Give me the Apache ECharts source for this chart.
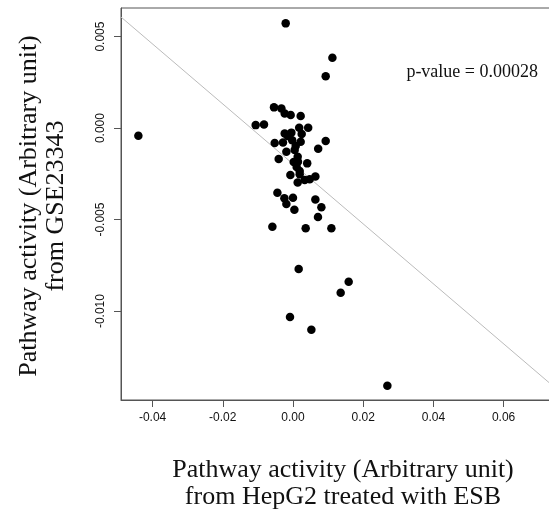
<!DOCTYPE html>
<html><head><meta charset="utf-8">
<script src="https://cdn.jsdelivr.net/npm/echarts@6/dist/echarts.min.js"></script>
<style>html,body{margin:0;padding:0;background:#fff}#c{width:549px;height:526px}</style>
</head><body><div id="c"></div>
<script>
// x values: pathway activity from HepG2 treated with ESB
const xValues = [-0.04405,-0.00208,0.01123,0.00932,-0.00541,-0.00330,-0.00236,-0.00066,0.00219,-0.01063,
 -0.00826,0.00177,0.00433,-0.00236,-0.00046,-0.00521,-0.00285,-0.00023,0.00219,0.00932,
 0.00718,-0.00188,0.00048,0.00134,-0.00407,0.00142,0.00405,0.00191,-0.00074,0.00191,
 0.00134,0.00333,0.00476,0.00638,-0.00444,-0.00245,0.00000,-0.00188,0.00040,0.00638,
 0.00809,0.00712,-0.00587,0.00362,0.01094,0.00162,0.01587,0.01359,-0.00085,0.00524,
 0.02689,-0.00151,0.00077,0.00020,0.00105,0.00248];
// y values: pathway activity from GSE23343
const yValues = [-0.00042,0.00572,0.00384,0.00283,0.00113,0.00107,0.00079,0.00071,0.00066,0.00016,
 0.00020,0.00002,0.00002,-0.00030,-0.00025,-0.00082,-0.00079,-0.00066,-0.00075,-0.00071,
 -0.00113,-0.00130,-0.00120,-0.00157,-0.00169,-0.00184,-0.00193,-0.00235,-0.00257,-0.00253,
 -0.00297,-0.00284,-0.00280,-0.00265,-0.00354,-0.00384,-0.00381,-0.00415,-0.00446,-0.00390,
 -0.00433,-0.00486,-0.00539,-0.00548,-0.00548,-0.00770,-0.00840,-0.00900,-0.01033,-0.01102,
 -0.01408,-0.00044,-0.00098,-0.00186,-0.00213,-0.00033];
const xTicks = [-0.04,-0.02,0.00,0.02,0.04,0.06];
const yTicks = [0.005,0.000,-0.005,-0.010];
const fitSlope = -0.1638;
const fitIntercept = -0.00196;
const pValueText = 'p-value = 0.00028';

const xMin = -0.049, xMax = 0.07636, yMin = -0.01486, yMax = 0.00656;
const pts = xValues.map((x,i)=>[x,yValues[i]]);
const fitLine = [[xMin, fitIntercept + fitSlope*xMin],[xMax, fitIntercept + fitSlope*xMax]];

const chart = echarts.init(document.getElementById('c'), null, {renderer:'canvas'});
const axisCol = '#555';
const titleFont = '26px "Liberation Serif"';
chart.setOption({
  animation:false,
  backgroundColor:'#fff',
  grid:{left:121, top:8, width:440, height:392, outerBoundsMode:'none', containLabel:false,
    show:true, borderColor:axisCol, borderWidth:1, backgroundColor:'transparent'},
  xAxis:{type:'value', min:xMin, max:xMax, splitLine:{show:false},
    axisLine:{show:true, onZero:false, lineStyle:{color:axisCol}},
    axisTick:{show:true, length:7, lineStyle:{color:axisCol}, customValues:xTicks},
    axisLabel:{customValues:xTicks, color:'#111', fontFamily:'Liberation Sans', fontSize:12, margin:12,
      formatter:v=>v.toFixed(2)}},
  yAxis:{type:'value', min:yMin, max:yMax, splitLine:{show:false},
    axisLine:{show:true, onZero:false, lineStyle:{color:axisCol}},
    axisTick:{show:true, length:7, lineStyle:{color:axisCol}, customValues:yTicks},
    axisLabel:{customValues:yTicks, color:'#111', fontFamily:'Liberation Sans', fontSize:12, margin:14, rotate:90,
      formatter:v=>v.toFixed(3)}},
  series:[
    {type:'line', data:fitLine, symbol:'none', lineStyle:{color:'#bbb', width:1}, silent:true, z:1},
    {type:'scatter', data:pts, symbolSize:8.5, itemStyle:{color:'#000', opacity:1}, z:2}
  ],
  graphic:[
    {type:'text', x:538, y:72, style:{text:pValueText, font:'18px "Liberation Serif"', fill:'#111', align:'right', verticalAlign:'middle'}},
    {type:'text', x:343, y:470, style:{text:'Pathway activity (Arbitrary unit)', font:titleFont, fill:'#111', align:'center', verticalAlign:'middle'}},
    {type:'text', x:343, y:497, style:{text:'from HepG2 treated with ESB', font:titleFont, fill:'#111', align:'center', verticalAlign:'middle'}},
    {type:'text', x:29, y:206, rotation:Math.PI/2, style:{text:'Pathway activity (Arbitrary unit)', font:titleFont, fill:'#111', align:'center', verticalAlign:'middle'}},
    {type:'text', x:56, y:206, rotation:Math.PI/2, style:{text:'from GSE23343', font:titleFont, fill:'#111', align:'center', verticalAlign:'middle'}}
  ]
});
</script></body></html>
